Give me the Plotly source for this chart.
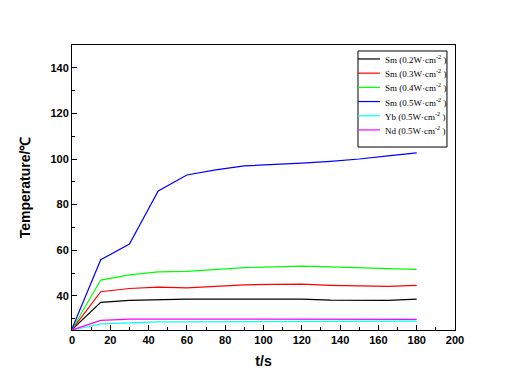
import plotly.graph_objects as go

time_s = [0, 15, 30, 45, 60, 75, 90, 105, 120, 135, 150, 165, 180]

sm_02 = [25.2, 37.1, 38.0, 38.3, 38.5, 38.5, 38.5, 38.5, 38.5, 38.1, 37.9, 38.0, 38.5]
sm_03 = [25.2, 41.8, 43.2, 43.8, 43.5, 44.3, 44.8, 45.0, 45.1, 44.6, 44.3, 44.1, 44.6]
sm_04 = [25.3, 46.9, 49.2, 50.5, 50.7, 51.5, 52.4, 52.7, 53.0, 52.7, 52.2, 51.9, 51.6]
sm_05 = [25.5, 55.8, 62.7, 86.0, 93.0, 95.2, 97.0, 97.5, 98.2, 99.0, 100.0, 101.4, 102.7]
yb_05 = [25.0, 27.7, 28.1, 28.6, 28.6, 28.6, 28.8, 28.9, 28.9, 28.9, 28.9, 28.9, 28.9]
nd_05 = [25.0, 29.2, 29.8, 29.8, 29.8, 29.8, 29.8, 29.8, 29.8, 29.8, 29.8, 29.8, 29.7]

series_names = [
    "Sm (0.2W·cm<sup>-2</sup> )",
    "Sm (0.3W·cm<sup>-2</sup> )",
    "Sm (0.4W·cm<sup>-2</sup> )",
    "Sm (0.5W·cm<sup>-2</sup> )",
    "Yb (0.5W·cm<sup>-2</sup> )",
    "Nd (0.5W·cm<sup>-2</sup> )",
]
series_values = [sm_02, sm_03, sm_04, sm_05, yb_05, nd_05]
series_colors = ["#000000", "#ff0000", "#00ff00", "#0000ff", "#00ffff", "#ff00ff"]

fig = go.Figure()
for name, vals, col in zip(series_names, series_values, series_colors):
    fig.add_trace(go.Scatter(x=time_s, y=vals, mode="lines", name=name,
                             line=dict(color=col, width=1.2), showlegend=False))

# Hand-built legend box (compact, Origin-style)
LEG_X0, LEG_X1 = 0.7467, 0.979
LEG_Y0, LEG_Y1 = 0.642, 0.979
SAMPLE_X1 = 0.804
TEXT_X = 0.811
first_y, step_y = 0.951, 0.0498
shapes = [dict(type="rect", xref="paper", yref="paper", x0=LEG_X0, x1=LEG_X1, y0=LEG_Y0, y1=LEG_Y1,
               line=dict(color="#000000", width=1), fillcolor="white", layer="above")]
annotations = []
for i, (name, col) in enumerate(zip(series_names, series_colors)):
    yy = first_y - i * step_y
    shapes.append(dict(type="line", xref="paper", yref="paper", x0=LEG_X0, x1=SAMPLE_X1, y0=yy, y1=yy,
                       line=dict(color=col, width=1.2), layer="above"))
    annotations.append(dict(xref="paper", yref="paper", x=TEXT_X, y=yy, text=name, showarrow=False,
                            xanchor="left", yanchor="middle",
                            font=dict(family="Liberation Serif, Times New Roman, serif", size=9, color="#000000")))

fig.update_layout(
    width=509, height=370,
    margin=dict(l=64, r=62, t=37, b=48, autoexpand=False),
    paper_bgcolor="white", plot_bgcolor="white",
    showlegend=False,
    shapes=shapes,
    annotations=annotations,
    xaxis=dict(
        range=[0, 200], dtick=20, tick0=0, automargin=False,
        showline=True, linecolor="#000000", linewidth=1, mirror=True,
        ticks="inside", ticklen=5, tickcolor="#000000",
        minor=dict(dtick=10, ticks="inside", ticklen=3, tickcolor="#000000"),
        showgrid=False, zeroline=False,
        tickfont=dict(family="Arial, Liberation Sans", size=11, color="#000000", weight="bold"),
        title=dict(text="<b>t/s</b>", font=dict(family="Arial, Liberation Sans", size=14, color="#000000"), standoff=10),
    ),
    yaxis=dict(
        range=[25, 150], tickvals=[40, 60, 80, 100, 120, 140], automargin=False,
        showline=True, linecolor="#000000", linewidth=1, mirror=True,
        ticks="inside", ticklen=5, tickcolor="#000000",
        minor=dict(tickvals=[30, 50, 70, 90, 110, 130, 150], ticks="inside", ticklen=3, tickcolor="#000000"),
        showgrid=False, zeroline=False,
        tickfont=dict(family="Arial, Liberation Sans", size=11, color="#000000", weight="bold"),
        title=dict(text="<b>Temperature/℃</b>", font=dict(family="Arial, Liberation Sans", size=14, color="#000000"), standoff=16),
    ),
)

fig.write_html("out.html")
